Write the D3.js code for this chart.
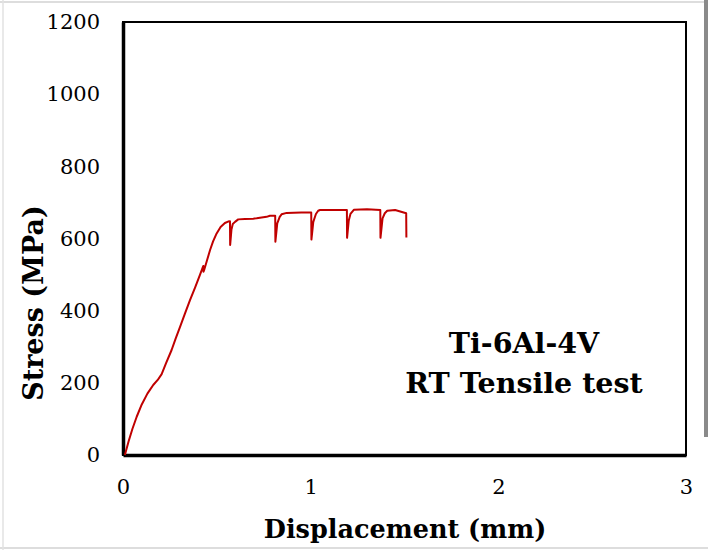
<!DOCTYPE html>
<html>
<head>
<meta charset="utf-8">
<script src="https://cdn.jsdelivr.net/npm/d3@7"></script>
<style>
  body { margin: 0; background: #fff; }
  svg { display: block; }
  text { font-family: "DejaVu Serif", "Liberation Serif", serif; fill: #000; }
</style>
</head>
<body>
<div id="chart"></div>
<script>
// Displacement (mm) and stress (MPa)
const dispX = [0.01, 0.03, 0.05, 0.073, 0.10, 0.13, 0.161, 0.185, 0.206, 0.23, 0.259, 0.28, 0.304, 0.33, 0.357,
  0.385, 0.41, 0.428, 0.429, 0.432, 0.445, 0.464, 0.48, 0.499, 0.52, 0.543, 0.56, 0.570,
  0.571, 0.578, 0.585, 0.597, 0.614, 0.65, 0.694, 0.712, 0.765, 0.783, 0.811,
  0.812, 0.822, 0.835, 0.845, 0.872, 0.95, 1.003,
  1.004, 1.014, 1.028, 1.04, 1.05, 1.12, 1.193,
  1.194, 1.203, 1.212, 1.231, 1.30, 1.371,
  1.372, 1.383, 1.395, 1.408, 1.45, 1.509, 1.510];
const stress = [0, 38, 72, 106, 140, 170, 194, 208, 224, 255, 291, 322, 355, 392, 429,
  465, 499, 524, 508, 512, 535, 568, 592, 614, 632, 643, 647, 648,
  582, 625, 640, 646, 653, 654, 655, 656, 660, 663, 663,
  591, 642, 660, 667, 671, 672, 672,
  597, 646, 668, 677, 679, 679, 679,
  602, 650, 668, 680, 681, 679,
  602, 656, 670, 677, 679, 670, 603];

const xTicks = [0, 1, 2, 3];
const yTicks = [0, 200, 400, 600, 800, 1000, 1200];
const annotation = ["Ti-6Al-4V", "RT Tensile test"];

const width = 708, height = 550;
const margin = { top: 22, right: 22, bottom: 95, left: 123 };
const plotW = width - margin.left - margin.right;
const plotH = height - margin.top - margin.bottom;

const svg = d3.select("#chart").append("svg")
  .attr("width", width).attr("height", height);

// faint scan edges
svg.append("line").attr("x1", 0).attr("x2", width).attr("y1", 2).attr("y2", 2)
  .attr("stroke", "#ddd").attr("stroke-width", 2);
svg.append("line").attr("x1", 0).attr("x2", width).attr("y1", 548).attr("y2", 548)
  .attr("stroke", "#ddd").attr("stroke-width", 2);
svg.append("line").attr("x1", 3).attr("x2", 3).attr("y1", 0).attr("y2", height)
  .attr("stroke", "#e2e2e2").attr("stroke-width", 1.5);
svg.append("rect").attr("x", 704).attr("y", 0).attr("width", 4).attr("height", 437)
  .attr("fill", "#8a8a8a");

const g = svg.append("g").attr("transform", `translate(${margin.left},${margin.top})`);

const x = d3.scaleLinear().domain([0, 3]).range([0, plotW]);
const y = d3.scaleLinear().domain([0, 1200]).range([plotH, 0]);

// plot area border
g.append("rect").attr("x", 0).attr("y", 0).attr("width", plotW).attr("height", plotH)
  .attr("fill", "none").attr("stroke", "#000").attr("stroke-width", 2);

// axes (no tick marks, thick lines)
const xAxis = g.append("g").attr("transform", `translate(0,${plotH})`)
  .call(d3.axisBottom(x).tickValues(xTicks).tickSize(0).tickPadding(24).tickFormat(d3.format("d")));
xAxis.select(".domain").attr("stroke-width", 3.5);
xAxis.selectAll("text").style("font-size", "21px").attr("font-family", null);

const yAxis = g.append("g")
  .call(d3.axisLeft(y).tickValues(yTicks).tickSize(0).tickPadding(23).tickFormat(d3.format("d")));
yAxis.select(".domain").attr("stroke-width", 3.5);
yAxis.selectAll("text").style("font-size", "21px").attr("font-family", null);

// curve
const line = d3.line().x((d, i) => x(dispX[i])).y(d => y(d)).curve(d3.curveLinear);
g.append("path").datum(stress)
  .attr("d", line)
  .attr("fill", "none").attr("stroke", "#c00000").attr("stroke-width", 2)
  .attr("stroke-linejoin", "round");

// axis titles
svg.append("text").attr("x", 405).attr("y", 538)
  .attr("text-anchor", "middle").style("font-size", "25.5px").style("font-weight", "bold")
  .text("Displacement (mm)");
svg.append("text").attr("transform", "translate(43,303) rotate(-90)")
  .attr("text-anchor", "middle").style("font-size", "27px").style("font-weight", "bold")
  .text("Stress (MPa)");

// annotation
annotation.forEach((t, i) => {
  svg.append("text").attr("x", 524).attr("y", 353 + i * 40)
    .attr("text-anchor", "middle").style("font-size", "28.5px").style("font-weight", "bold")
    .text(t);
});
</script>
</body>
</html>
